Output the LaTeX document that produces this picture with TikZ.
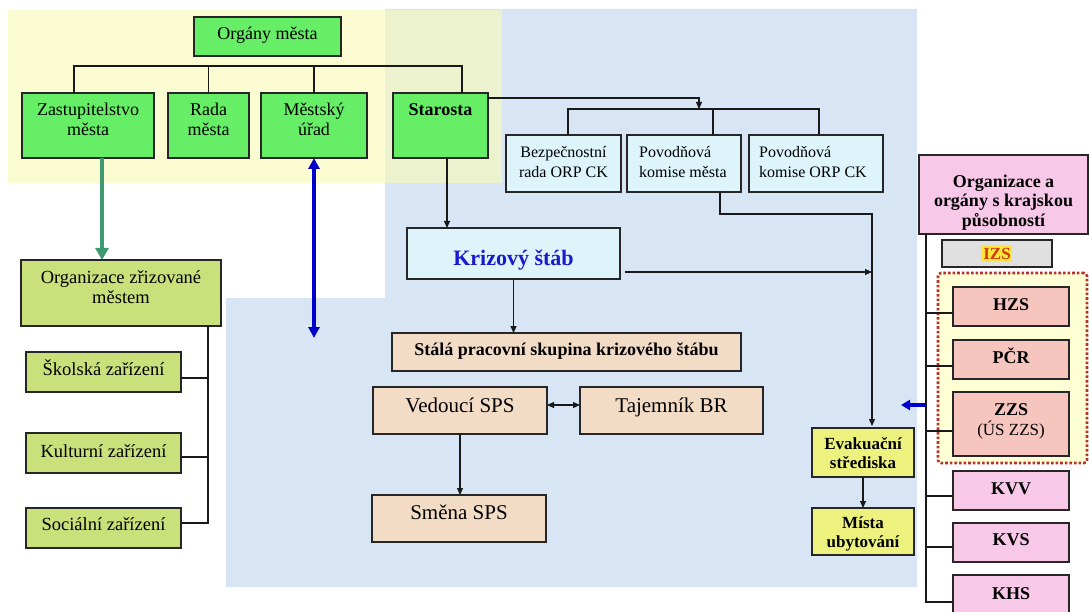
\documentclass[tikz,border=0pt]{standalone}
\usepackage{fontspec}
\setmainfont{Liberation Serif}
\usetikzlibrary{arrows.meta}
\definecolor{bgyel}{HTML}{FBFBB4}
\definecolor{bgblue}{HTML}{D8E5F5}
\definecolor{grn}{HTML}{66EE66}
\definecolor{olivebox}{HTML}{C9E07B}
\definecolor{beige}{HTML}{F2DCC6}
\definecolor{cyanl}{HTML}{DCF4FA}
\definecolor{evakc}{HTML}{EDF27F}
\definecolor{pinkb}{HTML}{F8C8E8}
\definecolor{salm}{HTML}{F6C6BE}
\definecolor{grayb}{HTML}{E0E0E0}
\definecolor{izsy}{HTML}{FFFFD6}
\definecolor{dotred}{HTML}{B8302C}
\definecolor{tealg}{HTML}{3E9A72}
\definecolor{darkblue}{HTML}{0000CC}
\definecolor{ksblue}{HTML}{1A1ACC}
\definecolor{izstext}{HTML}{D03A10}
\definecolor{hilite}{HTML}{FFE63C}
\newcommand\bx[6]{\node[obox,#6,minimum width={#4-#2},minimum height={#5-#3}] (#1) at (#2,#3) {};}
\newcommand\tx[5]{\node[txt,#4] (#1) at (#2,{#3-17}) {\rule{0pt}{17pt}#5};}
\begin{document}
\begin{tikzpicture}[x=1pt,y=-1pt,
  obox/.style={draw=black!85,line width=1.3pt,inner sep=0pt,outer sep=0pt,anchor=north west,rectangle},
  txt/.style={inner sep=0pt,align=center,anchor=north},
  fs/.style={font=\fontsize{#1}{20}\selectfont},
  fb/.style={font=\fontsize{#1}{20}\selectfont\bfseries},
  ln/.style={draw=black!90,line width=1.1pt},
  ar/.style={ln,-{Triangle[length=7pt,width=6pt]}},
  dar/.style={ln,{Triangle[length=7pt,width=6pt]}-{Triangle[length=7pt,width=6pt]}},
  garrow/.style={draw=tealg,line width=4pt,-{Triangle[length=12pt,width=13pt]}},
  barrow/.style={draw=darkblue,line width=3.5pt,{Triangle[length=11pt,width=11pt]}-{Triangle[length=11pt,width=11pt]}},
  sarrow/.style={draw=darkblue,line width=3.5pt,-{Triangle[length=9pt,width=10pt]}},
  dotbox/.style={draw=dotred,line width=2.6pt,dash pattern=on 2.6pt off 2pt,fill=izsy,rounded corners=3pt}]
\useasboundingbox (0,0) rectangle (1089,612);
\clip (0,0) rectangle (1089,612);
\fill[white] (0,0) rectangle (1089,612);
% backgrounds
\fill[bgblue] (385,9) -- (917,9) -- (917,587) -- (226,587) -- (226,298) -- (385,298) -- cycle;
\fill[bgyel,fill opacity=0.6] (8,10) rectangle (502,183);
% dotted IZS group
\bx{izsgrp}{938}{273}{1087}{463}{dotbox}
% boxes
\bx{org}{194}{17}{341}{56}{fill=grn}
\bx{zast}{22}{93}{154}{158}{fill=grn}
\bx{rada}{168}{93}{249}{158}{fill=grn}
\bx{mest}{261}{93}{367}{158}{fill=grn}
\bx{staro}{393}{93}{488}{158}{fill=grn}
\bx{bez}{506}{135}{621}{192}{fill=cyanl}
\bx{pmes}{627}{135}{741}{192}{fill=cyanl}
\bx{porp}{749}{135}{883}{192}{fill=cyanl}
\bx{ks}{407}{228}{620}{279}{fill=cyanl}
\bx{stala}{392}{333}{741}{371}{fill=beige}
\bx{ved}{373}{387}{547}{434}{fill=beige}
\bx{taj}{580}{387}{763}{434}{fill=beige}
\bx{smena}{372}{495}{546}{542}{fill=beige}
\bx{ozm}{21}{260}{221}{326}{fill=olivebox}
\bx{skol}{26}{352}{181}{392}{fill=olivebox}
\bx{kult}{26}{433}{181}{473}{fill=olivebox}
\bx{soc}{26}{508}{181}{548}{fill=olivebox}
\bx{evak}{812}{428}{914}{477}{fill=evakc}
\bx{mista}{812}{508}{914}{555}{fill=evakc}
\bx{orga}{919}{155}{1088}{234}{fill=pinkb}
\bx{izs}{942}{240}{1052}{267}{fill=grayb}
\bx{hzs}{953}{287}{1069}{326}{fill=salm}
\bx{pcr}{953}{340}{1069}{379}{fill=salm}
\bx{zzs}{953}{392}{1069}{456}{fill=salm}
\bx{kvv}{953}{471}{1069}{510}{fill=pinkb}
\bx{kvs}{953}{523}{1069}{562}{fill=pinkb}
\bx{khs}{953}{575}{1069}{625}{fill=pinkb}
% connectors: top bus
\draw[ln] ([xshift=52pt]zast.north west) -- ++(0,-27) -| ([xshift=69pt]staro.north west);
\draw[ln] (rada.north) -- ++(0,-27);
\draw[ln] (mest.north) -- ++(0,-27);
\coordinate (b2) at (699,109);
\draw[ar] ([yshift=-5pt]staro.north east) -| (b2);
\draw[ln] ([xshift=62pt]bez.north west) -- ++(0,-26) -| ([xshift=70pt]porp.north west);
\draw[ln] ([xshift=86pt]pmes.north west) -- ++(0,-26);
\draw[ar] ([xshift=54pt]staro.south west) -- ([xshift=54pt]staro.south west |- ks.north);
\coordinate (kj) at (872,272);
\draw[ar] ([xshift=5pt,yshift=-18.5pt]ks.east) -- (kj);
\draw[ar] (ks.south) -- (ks.south |- stala.north);
\draw[ar,shorten >=2pt] ([xshift=93pt]pmes.south west) -- ++(0,22) -| ([xshift=60pt]evak.north west);
\draw[dar] ([yshift=5.5pt]ved.east) -- ([yshift=5.5pt]taj.west);
\draw[ar] ([xshift=87pt]ved.south west) -- ([xshift=87pt]ved.south west |- smena.north);
\draw[ar] (evak.south) -- (mista.north);
% left side
\draw[garrow] ([xshift=80pt]zast.south west) -- ([xshift=80pt]zast.south west |- ozm.north);
\coordinate (bend) at (314,338);
\draw[barrow] (mest.south) -- (bend);
\draw[ln] ([xshift=-13pt]ozm.south east) |- ([yshift=5pt]soc.east);
\draw[ln] ([yshift=-6pt]skol.east) -- ++(27,0);
\draw[ln] ([yshift=-4pt]kult.east) -- ++(27,0);
% right side
\draw[ln] ([xshift=7pt]orga.south west) |- ([yshift=-2pt]khs.west);
\draw[ln] ([yshift=-6.5pt]hzs.west) -- ++(-27,0);
\draw[ln] ([yshift=-6.5pt]pcr.west) -- ++(-27,0);
\draw[ln] ([yshift=-7pt]zzs.west) -- ++(-27,0);
\draw[ln] ([yshift=-5.5pt]kvv.west) -- ++(-27,0);
\draw[ln] ([yshift=-4.5pt]kvs.west) -- ++(-27,0);
\coordinate (sa1) at (926,405);
\coordinate (sa2) at (901,405);
\draw[sarrow] (sa1) -- (sa2);
% texts
\tx{t-org}{267.5}{39}{fs=18}{Orgány města}
\tx{t-zast}{88}{115}{fs=18}{Zastupitelstvo\\města}
\tx{t-rada}{208.5}{115}{fs=18}{Rada\\města}
\tx{t-mest}{314}{115}{fs=18}{Městský\\úřad}
\tx{t-staro}{440.5}{115}{fb=18}{Starosta}
\tx{t-bez}{563.5}{157}{fs=16}{Bezpečnostní\\rada ORP CK}
\tx{t-pmes}{639}{157}{fs=16,align=left,anchor=north west}{Povodňová\\komise města}
\tx{t-porp}{759}{157}{fs=16,align=left,anchor=north west}{Povodňová\\komise ORP CK}
\tx{t-ks}{513.5}{265}{fb=22,text=ksblue}{Krizový štáb}
\tx{t-stala}{566.5}{355}{fb=18}{Stálá pracovní skupina krizového štábu}
\tx{t-ved}{460}{412}{fs=21}{Vedoucí SPS}
\tx{t-taj}{671.5}{412}{fs=21}{Tajemník BR}
\tx{t-smena}{459}{519}{fs=21}{Směna SPS}
\tx{t-ozm}{121}{283}{fs=18.5}{Organizace zřizované\\městem}
\tx{t-skol}{103.5}{375}{fs=18.5}{Školská zařízení}
\tx{t-kult}{103.5}{457}{fs=18.5}{Kulturní zařízení}
\tx{t-soc}{103.5}{530}{fs=18.5}{Sociální zařízení}
\tx{t-orga}{1003.5}{187}{font=\fontsize{18}{19.5}\selectfont\bfseries}{Organizace a\\orgány s krajskou\\působností}
\fill[hilite] (981,245) rectangle (1012,262);
\tx{t-izs}{997}{259}{fb=17,text=izstext}{IZS}
\tx{t-hzs}{1011}{310}{fb=18}{HZS}
\tx{t-pcr}{1011}{363}{fb=18}{PČR}
\tx{t-zzs}{1011}{415}{fs=17}{\textbf{\fontsize{18}{20}\selectfont ZZS}\\(ÚS ZZS)}
\tx{t-kvv}{1011}{494}{fb=18}{KVV}
\tx{t-kvs}{1011}{545}{fb=18}{KVS}
\tx{t-khs}{1011}{599}{fb=18}{KHS}
\tx{t-evak}{863}{449}{font=\fontsize{17}{19}\selectfont\bfseries}{Evakuační\\střediska}
\tx{t-mista}{863}{528}{font=\fontsize{17}{19}\selectfont\bfseries}{Místa\\ubytování}
\end{tikzpicture}
\end{document}
